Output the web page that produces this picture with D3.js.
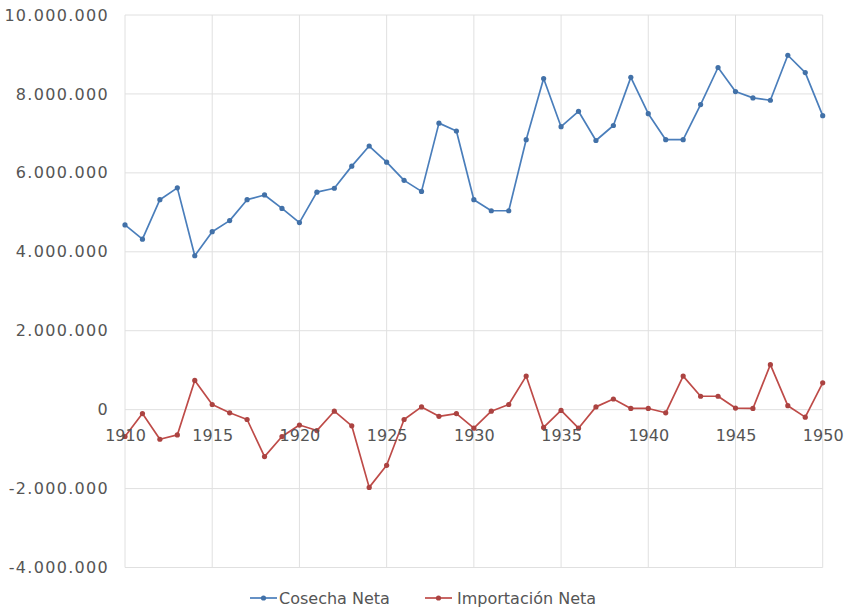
<!DOCTYPE html>
<html>
<head>
<meta charset="utf-8">
<script src="https://cdn.jsdelivr.net/npm/d3@7"></script>
<style>
  html, body { margin: 0; padding: 0; background: #fff; }
  svg text { font-family: "DejaVu Sans", Verdana, sans-serif; fill: #555; }
</style>
</head>
<body>
<svg id="chart" width="847" height="611"></svg>
<script>
// years 1910..1950
var years = d3.range(1910, 1951);

// Cosecha Neta
var cosecha = [
    4680000, 4320000, 5320000, 5620000, 3900000, 4510000, 4790000, 5320000, 5440000, 5100000,
    4740000, 5510000, 5610000, 6170000, 6680000, 6270000, 5810000, 5530000, 7260000, 7060000,
    5320000, 5040000, 5040000, 6840000, 8390000, 7170000, 7560000, 6820000, 7200000, 8420000,
    7500000, 6840000, 6840000, 7730000, 8670000, 8060000, 7900000, 7840000, 8980000, 8540000,
    7450000
];

// Importación Neta
var importacion = [
    -680000, -100000, -750000, -640000, 740000, 130000, -80000, -250000, -1190000, -680000,
    -390000, -530000, -40000, -410000, -1970000, -1410000, -250000, 70000, -170000, -100000,
    -470000, -40000, 130000, 850000, -450000, -20000, -470000, 70000, 270000, 30000,
    30000, -80000, 850000, 340000, 340000, 40000, 30000, 1140000, 100000, -190000,
    680000
];

var xTicks = [1910, 1915, 1920, 1925, 1930, 1935, 1940, 1945, 1950];
var yTicks = [-4000000, -2000000, 0, 2000000, 4000000, 6000000, 8000000, 10000000];

var seriesNames = ["Cosecha Neta", "Importación Neta"];
var seriesColors = ["#4a7ebb", "#be4b48"];

var svg = d3.select("#chart");

var x = d3.scaleLinear().domain([1910, 1950]).range([125, 822.7]);
var y = d3.scaleLinear().domain([-4000000, 10000000]).range([567.5, 15]);

var fmt = d3.formatLocale({
    decimal: ",", thousands: ".", grouping: [3], currency: ["", ""], minus: "-"
}).format(",d");

// grid
var grid = svg.append("g").attr("class", "grid");
grid.selectAll("line.h").data(yTicks).enter().append("line")
    .attr("x1", x(1910)).attr("x2", x(1950))
    .attr("y1", function(d) { return y(d); }).attr("y2", function(d) { return y(d); })
    .attr("stroke", "#e0e0e0").attr("stroke-width", 1);
grid.selectAll("line.v").data(xTicks).enter().append("line")
    .attr("y1", y(10000000)).attr("y2", y(-4000000))
    .attr("x1", function(d) { return x(d); }).attr("x2", function(d) { return x(d); })
    .attr("stroke", "#e0e0e0").attr("stroke-width", 1);

// y axis labels
var yAxis = svg.append("g")
    .attr("transform", "translate(109,0)")
    .call(d3.axisLeft(y).tickValues(yTicks).tickFormat(fmt).tickSize(0).tickPadding(0));
yAxis.select(".domain").remove();
yAxis.selectAll("text")
    .attr("font-size", 16).attr("letter-spacing", "1.3px")
    .style("font-family", "DejaVu Sans, Verdana, sans-serif").attr("fill", "#555");

// series
var data = [cosecha, importacion];
var line = d3.line()
    .x(function(d, i) { return x(years[i]); })
    .y(function(d) { return y(d); });

data.forEach(function(vals, k) {
    var g = svg.append("g");
    g.append("path").datum(vals)
        .attr("d", line)
        .attr("fill", "none")
        .attr("stroke", seriesColors[k])
        .attr("stroke-width", 1.7)
        .attr("stroke-linejoin", "round");
    g.selectAll("circle").data(vals).enter().append("circle")
        .attr("cx", function(d, i) { return x(years[i]); })
        .attr("cy", function(d) { return y(d); })
        .attr("r", 2.6)
        .attr("fill", d3.color(seriesColors[k]).darker(0.3));
});

// x axis labels (drawn over the lines, like the original)
var xAxis = svg.append("g")
    .attr("transform", "translate(0," + y(0) + ")")
    .call(d3.axisBottom(x).tickValues(xTicks).tickFormat(d3.format("d")).tickSize(0).tickPadding(20));
xAxis.select(".domain").remove();
xAxis.selectAll("text")
    .attr("font-size", 16)
    .style("font-family", "DejaVu Sans, Verdana, sans-serif").attr("fill", "#555");

// legend
var legendX = [250, 425];
var legend = svg.append("g");
seriesNames.forEach(function(name, k) {
    var lg = legend.append("g").attr("transform", "translate(" + legendX[k] + ",598)");
    lg.append("line").attr("x1", 0).attr("x2", 27).attr("y1", 0).attr("y2", 0)
        .attr("stroke", seriesColors[k]).attr("stroke-width", 1.7);
    lg.append("circle").attr("cx", 13.5).attr("cy", 0).attr("r", 2.6)
        .attr("fill", d3.color(seriesColors[k]).darker(0.3));
    lg.append("text").attr("x", k === 0 ? 29 : 32).attr("y", 0).attr("dy", "0.35em")
        .attr("font-size", 16).text(name);
});
</script>
</body>
</html>
